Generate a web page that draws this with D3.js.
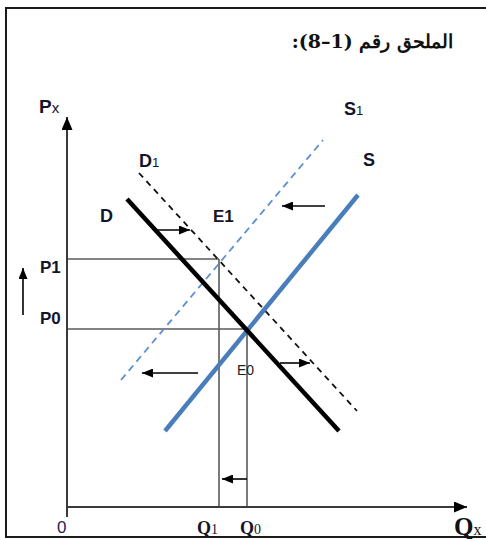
<!DOCTYPE html>
<html>
<head>
<meta charset="utf-8">
<script src="https://cdn.jsdelivr.net/npm/d3@7/dist/d3.min.js"></script>
<style>
  html, body { margin: 0; padding: 0; background: #fff; }
  svg { display: block; }
</style>
</head>
<body>
<script>
// Supply and demand shift diagram: quantity (Qx) against price (Px)

// Curves, each given by its two end points (quantity, price)
const demand   = [{q: 15, p: 77},   {q: 68, p: 19}];
const demand1  = [{q: 18, p: 83.5}, {q: 72.5, p: 24}];
const supply   = [{q: 24.5, p: 19}, {q: 72.75, p: 78}];
const supply1  = [{q: 13.5, p: 31.75}, {q: 64, p: 91.75}];

// Equilibrium levels
const qLevels = [{name: "Q1", q: 38}, {name: "Q0", q: 45}];
const pLevels = [{name: "P1", p: 62, q: 38}, {name: "P0", p: 44.5, q: 45}];

// Shift arrows (from -> to)
const shiftArrows = [
  {from: {q: 22.5, p: 69.25}, to: {q: 30.75, p: 69.25}},
  {from: {q: 64.5, p: 75.25}, to: {q: 53.75, p: 75.25}},
  {from: {q: 32.75, p: 33.5}, to: {q: 18.75, p: 33.5}},
  {from: {q: 53.25, p: 36},   to: {q: 60.75, p: 36}},
  {from: {q: 45, p: 7},       to: {q: 38.75, p: 7}},
  {from: {q: -11, p: 48},     to: {q: -11, p: 59.75}}
];

// Axis extents
const qMax = 100;
const pMax = 97.5;

const W = 486, H = 539;
const svg = d3.select("body").append("svg").attr("width", W).attr("height", H);

const x = d3.scaleLinear().domain([0, 100]).range([67, 467]);
const y = d3.scaleLinear().domain([0, 100]).range([507, 107]);

const defs = svg.append("defs");
function arrowMarker(id, len, wid) {
  defs.append("marker")
    .attr("id", id)
    .attr("viewBox", `0 0 ${len} ${wid}`)
    .attr("refX", len).attr("refY", wid / 2)
    .attr("markerWidth", len).attr("markerHeight", wid)
    .attr("markerUnits", "userSpaceOnUse")
    .attr("orient", "auto")
    .append("path")
    .attr("d", `M0,0 L${len},${wid / 2} L0,${wid} Z`)
    .attr("fill", "#000");
}
arrowMarker("head", 11, 9);
arrowMarker("axisHead", 13, 11);

// Frame
svg.append("rect")
  .attr("x", 6).attr("y", 8).attr("width", 500).attr("height", 529)
  .attr("fill", "none").attr("stroke", "#1a1a1a").attr("stroke-width", 2);

// Title
svg.append("text")
  .attr("x", 453).attr("y", 48)
  .attr("direction", "rtl")
  .attr("text-anchor", "start")
  .attr("font-family", "'DejaVu Serif', 'Liberation Serif', serif")
  .attr("font-size", 19)
  .attr("font-weight", "bold")
  .attr("fill", "#111")
  .style("unicode-bidi", "embed")
  .text("الملحق رقم (1–8):");

const line = d3.line().x(d => x(d.q)).y(d => y(d.p));

// Guide lines to the axes
const guide = svg.append("g").attr("stroke", "#5a5a5a").attr("stroke-width", 1.6).attr("fill", "none");
pLevels.forEach(d => {
  guide.append("path").attr("d", line([{q: 0, p: d.p}, {q: d.q, p: d.p}]));
});
qLevels.forEach((d, i) => {
  guide.append("path").attr("d", line([{q: d.q, p: 0}, {q: d.q, p: pLevels[i].p}]));
});

// Axes
const axes = svg.append("g").attr("stroke", "#3a3a3a").attr("stroke-width", 2).attr("fill", "none");
axes.append("path").attr("d", line([{q: 0, p: -2.5}, {q: 0, p: pMax}])).attr("marker-end", "url(#axisHead)");
axes.append("path").attr("d", line([{q: 0, p: 0}, {q: qMax, p: 0}])).attr("marker-end", "url(#axisHead)");

// Curves
svg.append("path").attr("d", line(supply1))
  .attr("stroke", "#5b8fd4").attr("stroke-width", 1.8).attr("stroke-dasharray", "7,5").attr("fill", "none");
svg.append("path").attr("d", line(demand1))
  .attr("stroke", "#111").attr("stroke-width", 1.8).attr("stroke-dasharray", "6,5").attr("fill", "none");
svg.append("path").attr("d", line(supply))
  .attr("stroke", "#4a7ebb").attr("stroke-width", 4.5).attr("fill", "none");
svg.append("path").attr("d", line(demand))
  .attr("stroke", "#000").attr("stroke-width", 4.5).attr("fill", "none");

// Shift arrows
svg.append("g").selectAll("path").data(shiftArrows).join("path")
  .attr("d", d => line([d.from, d.to]))
  .attr("stroke", "#000").attr("stroke-width", 1.6).attr("fill", "none")
  .attr("marker-end", "url(#head)");

// Labels
const sans = "'Liberation Sans', Arial, sans-serif";
const serif = "'Liberation Serif', 'Times New Roman', serif";
function label(px, py, main, sub, opts = {}) {
  const t = svg.append("text")
    .attr("x", px).attr("y", py)
    .attr("font-family", opts.family || sans)
    .attr("font-weight", opts.weight || "bold")
    .attr("font-size", opts.size || 18)
    .attr("fill", opts.fill || "#14142a");
  t.append("tspan").text(main);
  if (sub) {
    t.append("tspan")
      .attr("font-size", opts.subSize || 13)
      .attr("font-weight", opts.subWeight || "normal")
      .text(sub);
  }
  return t;
}

label(39, 113, "P", "x", {size: 19, subSize: 15, subWeight: "normal"});
label(139, 167, "D", "1");
label(100, 222, "D", null);
label(213, 222, "E1", null, {size: 17});
label(344, 115, "S", "1");
label(363, 166, "S", null);
label(x(0) - 27, y(pLevels[0].p) + 14, "P1", null, {size: 17});
label(x(0) - 27, y(pLevels[1].p) - 5, "P0", null, {size: 17});
label(237, 375, "E0", null, {size: 14, weight: "normal", fill: "#222"});
label(57, 533, "0", null, {size: 17, weight: "normal", fill: "#2a2050"});
qLevels.forEach(d => {
  label(x(d.q) - 22 + (d.name === "Q0" ? 15 : 0), 534, "Q", d.name.slice(1),
        {family: serif, size: 18, subSize: 14});
});
label(454, 535, "Q", "x", {family: serif, size: 25, subSize: 16, fill: "#111"});
</script>
</body>
</html>
